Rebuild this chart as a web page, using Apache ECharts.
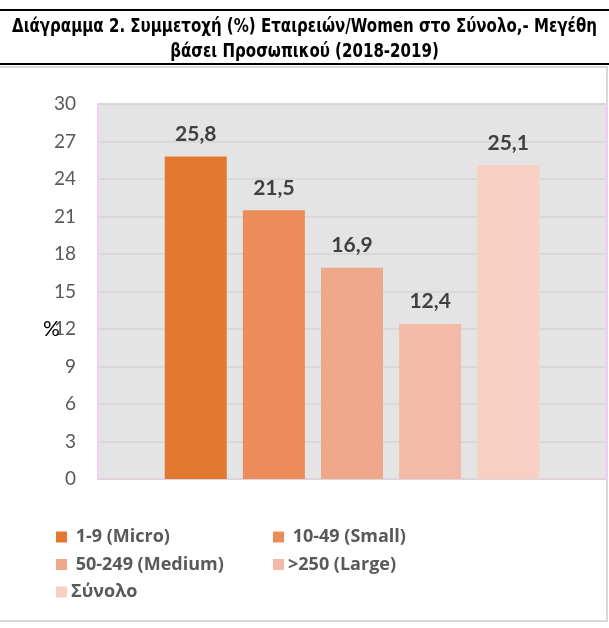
<!DOCTYPE html>
<html>
<head>
<meta charset="utf-8">
<script src="https://cdn.jsdelivr.net/npm/echarts@6/dist/echarts.min.js"></script>
<style>
html,body{margin:0;padding:0;background:#fff;}
#c{width:609px;height:628px;}
</style>
</head>
<body>
<div id="c"></div>
<script>
var titleLines = ['Διάγραμμα 2. Συμμετοχή (%) Εταιρειών/Women στο Σύνολο,- Μεγέθη', 'βάσει Προσωπικού (2018-2019)'];
var categories = ['2018-2019'];
var seriesNames = [' 1-9 (Micro)', ' 10-49 (Small)', ' 50-249 (Medium)', '>250 (Large)', 'Σύνολο'];
var seriesValues = [25.8, 21.5, 16.9, 12.4, 25.1];
var seriesColors = ['#E37830', '#EC8C5A', '#F0A88A', '#F3BBA7', '#F6D0C3'];
var yMin = 0, yMax = 30, yInterval = 3;
var yAxisName = '%';

var chart = echarts.init(document.getElementById('c'), null, {renderer: 'canvas'});
var labelFont = "Lato, 'Open Sans', sans-serif";
var legendFont = "'Open Sans', Lato, sans-serif";
var titleFont = "'DejaVu Sans Condensed', 'DejaVu Sans', sans-serif";

// measure title to fit the narrow-font width of the original
var mctx = document.createElement('canvas').getContext('2d');
mctx.font = "bold 19px " + titleFont;
var w1 = mctx.measureText(titleLines[0]).width;
var titleScale = 585 / w1;

var series = seriesNames.map(function (n, i) {
  return {
    name: n,
    type: 'bar',
    data: [seriesValues[i]],
    barWidth: 62,
    barGap: '26%',
    itemStyle: {color: seriesColors[i]},
    label: {
      show: true,
      position: 'top',
      distance: 12,
      color: '#404040',
      fontSize: 21,
      fontWeight: 'bold',
      fontFamily: labelFont,
      formatter: function (p) { return String(p.value).replace('.', ','); }
    }
  };
});

var legendText = {color: '#595959', fontSize: 18, lineHeight: 18, fontWeight: 'bold', fontFamily: legendFont, padding: [0, 0, 0, -1]};

chart.setOption({
  animation: false,
  backgroundColor: '#fff',
  graphic: [
    {type: 'line', shape: {x1: 0, y1: 10, x2: 609, y2: 10}, style: {stroke: '#000', lineWidth: 2}},
    {type: 'line', shape: {x1: 0, y1: 64, x2: 609, y2: 64}, style: {stroke: '#000', lineWidth: 2}},
    {type: 'rect', shape: {x: -2, y: 67, width: 609, height: 554}, style: {fill: 'none', stroke: '#D9D9D9', lineWidth: 2}, z: -1},
    {type: 'text', x: 304.5, y: 27, scaleX: titleScale, style: {text: titleLines[0], textAlign: 'center', textVerticalAlign: 'middle', fill: '#000', fontSize: 19, fontWeight: 'bold', fontFamily: titleFont}},
    {type: 'text', x: 304.5, y: 52, scaleX: titleScale, style: {text: titleLines[1], textAlign: 'center', textVerticalAlign: 'middle', fill: '#000', fontSize: 19, fontWeight: 'bold', fontFamily: titleFont}},
    {type: 'text', left: 43, top: 319, style: {text: yAxisName, fill: '#000', fontSize: 21, fontFamily: labelFont}, z: 10}
  ],
  legend: [
    {
      data: [seriesNames[0], seriesNames[2], seriesNames[4]],
      orient: 'vertical',
      left: 51,
      top: 523,
      itemWidth: 11,
      itemHeight: 11,
      itemGap: 9.5,
      icon: 'rect',
      textStyle: legendText
    },
    {
      data: [seriesNames[1], seriesNames[3]],
      orient: 'vertical',
      left: 268,
      top: 523,
      itemWidth: 11,
      itemHeight: 11,
      itemGap: 9.5,
      icon: 'rect',
      textStyle: legendText
    }
  ],
  grid: {
    left: 98, right: 3, top: 104, bottom: 149,
    show: true,
    backgroundColor: '#E4E4E4',
    borderColor: '#F9CDF5',
    borderWidth: 2
  },
  xAxis: {
    type: 'category',
    data: categories,
    axisLine: {show: false},
    axisTick: {show: false},
    axisLabel: {show: false}
  },
  yAxis: {
    type: 'value',
    min: yMin,
    max: yMax,
    interval: yInterval,
    axisLine: {show: false},
    axisTick: {show: false},
    axisLabel: {color: '#595959', fontSize: 19, fontFamily: labelFont, margin: 22},
    splitLine: {lineStyle: {color: '#D6D6D6', width: 1.5}}
  },
  series: series
});
</script>
</body>
</html>
